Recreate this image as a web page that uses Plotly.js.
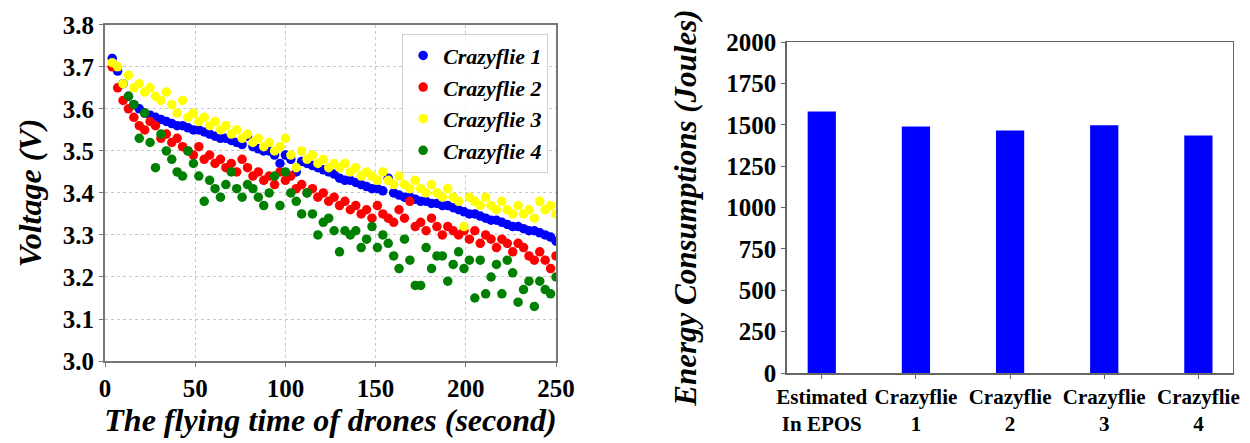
<!DOCTYPE html>
<html>
<head>
<meta charset="utf-8">
<script src="https://cdn.plot.ly/plotly-3.0.1.min.js"></script>
<style>html,body{margin:0;padding:0;background:#fff;}#chart{width:1250px;height:443px;}</style>
</head>
<body>
<div id="chart"></div>
<script>
// Flying time (s)
const time = [4,7,10,13,16,19,22,25,28,31,34,37,40,43,46,49,52,55,58,61,64,67,70,73,76,79,82,85,88,91,94,97,100,103,106,109,112,115,118,121,124,127,130,133,136,139,142,145,148,151,154,157,160,163,166,169,172,175,178,181,184,187,190,193,196,199,202,205,208,211,214,217,220,223,226,229,232,235,238,241,244,247,250];

const crazyflie1 = [3.72,3.69,3.66,3.63,3.61,3.60,3.59,3.585,3.58,3.575,3.57,3.565,3.56,3.56,3.555,3.55,3.55,3.545,3.54,3.535,3.53,3.53,3.525,3.52,3.515,3.535,3.51,3.505,3.50,3.50,3.49,3.47,3.49,3.48,3.45,3.475,3.47,3.465,3.46,3.455,3.45,3.445,3.435,3.43,3.43,3.425,3.42,3.415,3.41,3.41,3.405,3.435,3.40,3.395,3.39,3.39,3.385,3.38,3.38,3.375,3.375,3.37,3.37,3.365,3.36,3.355,3.35,3.35,3.345,3.34,3.335,3.335,3.33,3.325,3.32,3.32,3.315,3.31,3.31,3.305,3.30,3.295,3.285];

const crazyflie2 = [3.70,3.65,3.62,3.60,3.58,3.56,3.55,3.57,3.56,3.53,3.54,3.52,3.53,3.51,3.50,3.49,3.51,3.48,3.49,3.47,3.48,3.46,3.47,3.45,3.48,3.46,3.44,3.45,3.43,3.44,3.42,3.45,3.43,3.44,3.41,3.42,3.40,3.41,3.39,3.40,3.38,3.39,3.37,3.38,3.36,3.37,3.35,3.36,3.34,3.37,3.35,3.34,3.33,3.36,3.34,3.38,3.32,3.33,3.31,3.34,3.32,3.30,3.32,3.31,3.30,3.31,3.29,3.31,3.28,3.30,3.29,3.27,3.29,3.28,3.26,3.28,3.27,3.25,3.24,3.26,3.24,3.22,3.25];

const crazyflie3 = [3.71,3.70,3.66,3.68,3.65,3.66,3.64,3.65,3.63,3.62,3.64,3.61,3.59,3.62,3.58,3.59,3.57,3.58,3.56,3.57,3.55,3.56,3.54,3.55,3.53,3.54,3.52,3.53,3.51,3.52,3.50,3.51,3.53,3.49,3.46,3.50,3.48,3.49,3.47,3.48,3.46,3.47,3.46,3.47,3.45,3.46,3.44,3.45,3.44,3.43,3.45,3.43,3.42,3.44,3.42,3.41,3.43,3.41,3.40,3.42,3.40,3.39,3.41,3.39,3.38,3.32,3.39,3.38,3.37,3.39,3.37,3.36,3.38,3.36,3.35,3.37,3.35,3.36,3.34,3.38,3.36,3.37,3.35];

const crazyflie4 = [null,null,null,3.63,3.61,3.53,3.59,3.52,3.46,3.54,3.50,3.48,3.45,3.44,3.50,3.47,3.44,3.38,3.43,3.41,3.39,3.42,3.45,3.41,3.39,3.42,3.41,3.39,3.37,3.40,3.44,3.37,3.45,3.40,3.38,3.35,3.40,3.35,3.30,3.33,3.34,3.31,3.26,3.31,3.30,3.31,3.27,3.29,3.32,3.27,3.30,3.28,3.25,3.22,3.29,3.24,3.18,3.18,3.27,3.22,3.25,3.25,3.19,3.23,3.26,3.22,3.24,3.15,3.24,3.16,3.20,3.23,3.16,3.24,3.21,3.14,3.17,3.19,3.13,3.19,3.17,3.16,3.20];

const seriesNames = ['Crazyflie 1','Crazyflie 2','Crazyflie 3','Crazyflie 4'];
const seriesColors = ['#0000ff','#ff0000','#ffff00','#008000'];

const barCategories = ['Estimated<br>In EPOS','Crazyflie<br>1','Crazyflie<br>2','Crazyflie<br>3','Crazyflie<br>4'];
const energyJoules = [1580,1490,1465,1497,1435];

const serif = 'Liberation Serif';
const voltages = [crazyflie1, crazyflie2, crazyflie3, crazyflie4];

const traces = voltages.map((v, i) => ({
  type: 'scatter', mode: 'markers', x: time, y: v, name: seriesNames[i],
  marker: {color: seriesColors[i], size: 9.5},
  xaxis: 'x', yaxis: 'y'
}));
traces.push({
  type: 'bar', x: barCategories, y: energyJoules, width: 0.3,
  marker: {color: '#0000ff', line: {width: 0}}, showlegend: false,
  xaxis: 'x2', yaxis: 'y2'
});

function tickFont(size) { return {family: serif, size: size, color: '#000', weight: 'bold'}; }
function titleFont(size) { return {family: serif, size: size, color: '#000', weight: 'bold', style: 'italic'}; }

const layout = {
  width: 1250, height: 443,
  margin: {l: 0, r: 0, t: 0, b: 0},
  paper_bgcolor: '#fff', plot_bgcolor: '#fff',
  font: {family: serif, color: '#000'},
  showlegend: true,
  legend: {
    x: 0.4385, xanchor: 'right', y: 0.924, yanchor: 'top',
    bgcolor: 'rgba(255,255,255,0.85)', bordercolor: '#d0d0d0', borderwidth: 1,
    font: titleFont(22),
    itemwidth: 30, tracegroupgap: 0
  },
  xaxis: {
    domain: [0.084, 0.4448], range: [0, 250], dtick: 50, tick0: 0,
    showgrid: true, gridcolor: '#c8c8c8', griddash: 'dot', gridwidth: 1,
    zeroline: false, showline: true, linecolor: '#777', linewidth: 2, mirror: true,
    ticks: 'outside', ticklen: 4, tickcolor: '#777',
    tickfont: tickFont(25),
    title: {text: 'The flying time of drones (second)', font: titleFont(32), standoff: 7}
  },
  yaxis: {
    domain: [0.185, 0.944], range: [3.0, 3.8], dtick: 0.1, tick0: 3.0, tickformat: '.1f',
    showgrid: true, gridcolor: '#c8c8c8', griddash: 'dot', gridwidth: 1,
    zeroline: false, showline: true, linecolor: '#777', linewidth: 2, mirror: true,
    ticks: 'outside', ticklen: 4, tickcolor: '#777',
    tickfont: tickFont(25),
    title: {text: 'Voltage (V)', font: titleFont(32), standoff: 12}
  },
  xaxis2: {
    domain: [0.6294, 0.9862], range: [-0.372, 4.365], anchor: 'y2',
    showgrid: false, zeroline: false, showline: true, linecolor: '#666', linewidth: 1.5, mirror: true,
    ticks: 'outside', ticklen: 4, tickcolor: '#666',
    tickfont: tickFont(21)
  },
  yaxis2: {
    domain: [0.158, 0.905], range: [0, 2000], dtick: 250, anchor: 'x2',
    showgrid: false, zeroline: false, showline: true, linecolor: '#666', linewidth: 1.5, mirror: true,
    ticks: 'outside', ticklen: 4, tickcolor: '#666',
    tickfont: tickFont(25),
    title: {text: 'Energy Consumptions (Joules)', font: titleFont(31), standoff: 20}
  }
};

Plotly.newPlot('chart', traces, layout, {displayModeBar: false, staticPlot: true});
</script>
</body>
</html>
